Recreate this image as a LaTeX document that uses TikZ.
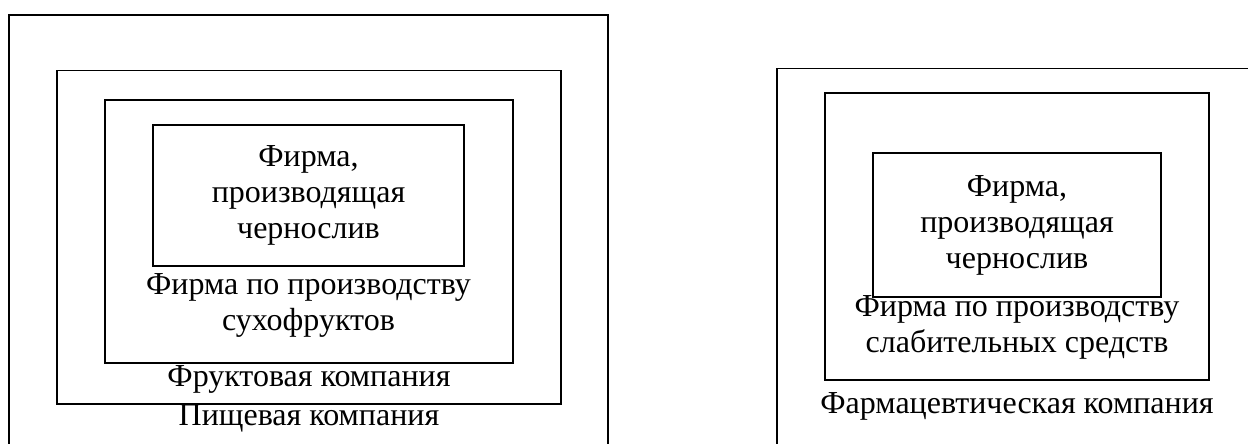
\documentclass[tikz,border=0pt]{standalone}
\usepackage{fontspec}
\setmainfont{Liberation Serif}
\usetikzlibrary{positioning}

\begin{document}
\begin{tikzpicture}[
  x=0.5pt, y=-0.5pt,
  frame/.style={rectangle, draw=black, line width=0.6pt, inner sep=0pt, align=center,
                font=\fontsize{16}{18}\selectfont},
  lbl/.style={inner sep=0pt, align=center, font=\fontsize{16}{18}\selectfont}
]
\useasboundingbox (0,0) rectangle (1248,444);

\node[frame, minimum width=299.5pt, minimum height=227.5pt] (food) at (308.5,242.5) {};
\node[frame, minimum width=252pt, minimum height=166.75pt] (fruit) at (309,237.25) {};
\node[frame, minimum width=204pt, minimum height=131.5pt] (dried) at (309,231.5) {};
\node[frame, minimum width=155.5pt, minimum height=70.5pt] (prune) at (308.5,195.5)
  {Фирма,\\производящая\\чернослив};
\node[lbl, below=3.5pt of prune] (driedlbl) {Фирма по производству\\сухофруктов};
\node[lbl, below=1pt of dried] (fruitlbl) {Фруктовая компания};
\node[lbl, below=0pt of fruit] (foodlbl) {Пищевая компания};

\node[frame, minimum width=246.5pt, minimum height=200.75pt] (pharma) at (1023.5,269.25) {};
\node[frame, minimum width=192pt, minimum height=143.5pt] (laxative) at (1017,236.5) {};
\node[frame, minimum width=144pt, minimum height=72pt] (prunetwo) at (1017,225)
  {Фирма,\\производящая\\чернослив};
\node[lbl, below=-1.25pt of prunetwo] (laxlbl) {Фирма по производству\\слабительных средств};
\node[lbl, below=6pt of laxative] (pharmalbl) {Фармацевтическая компания};
\end{tikzpicture}
\end{document}
